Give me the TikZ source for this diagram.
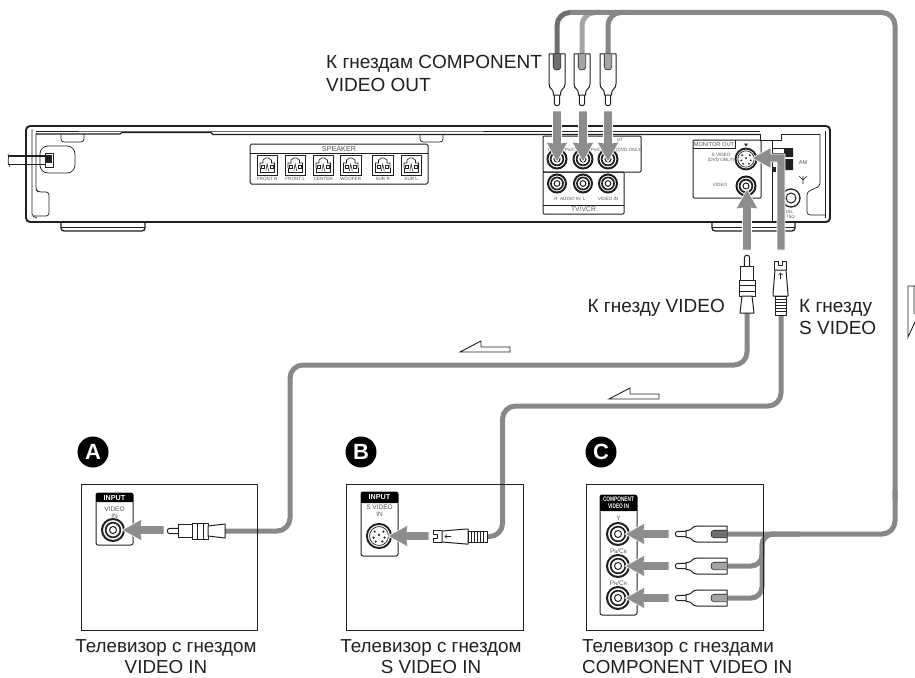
\documentclass[tikz,border=0pt]{standalone}
\usepackage{fontspec}
\setmainfont{Liberation Sans}
\usetikzlibrary{calc}
\definecolor{cablegray}{HTML}{87888A}
\definecolor{cabledark}{HTML}{6E6F71}
\definecolor{cablelight}{HTML}{A3A4A6}
\definecolor{arrowgray}{HTML}{8C8D8F}
\definecolor{ink}{HTML}{231F20}
\definecolor{smalltext}{HTML}{555555}
\tikzset{
  panel/.style={draw=ink,line width=1.9pt,line join=round},
  thinline/.style={draw=ink,line width=.7pt,line join=round},
  medline/.style={draw=ink,line width=1pt,line join=round},
  cable/.style={draw=cablegray,line width=5pt,rounded corners=13pt},
  garrow/.style={fill=arrowgray,draw=white,line width=.6pt,line join=miter},
  body/.style={fill=white,draw=ink,line width=1pt,line join=round},
  caption/.style={font=\fontsize{18.8}{21}\selectfont,align=center,inner sep=0pt,text=ink},
  toplabel/.style={font=\fontsize{19}{22.5}\selectfont,align=left,inner sep=0pt,text=ink},
  tiny/.style={font=\fontsize{4.6}{5.2}\selectfont,text=smalltext,inner sep=0pt,align=center},
  smalllbl/.style={font=\fontsize{6.5}{7.2}\selectfont,text=smalltext,inner sep=0pt,align=center},
  badge/.style={circle,fill=black,minimum size=31pt,inner sep=0pt,text=white,font=\fontsize{22}{22}\selectfont\bfseries},
  tvbox/.style={draw=ink,line width=1pt},
}
% gray arrow pointing left, tip at origin: #1 pos, #2 rotation, #3 length
\newcommand\grayarrow[3]{\path[garrow,shift={#1},rotate=#2] (0,0) -- (20,-11) -- (19,-4.5) -- (#3,-4.5) -- (#3,4.5) -- (19,4.5) -- (20,11) -- cycle;}
% RCA jack
\newcommand\rcajack[2]{\begin{scope}[shift={#1},scale=#2]
  \fill[white] (0,0) circle (11.5);
  \draw[ink,line width=2pt] (0,0) circle (10);
  \draw[ink,line width=1.7pt] (0,0) circle (6.7);
  \draw[ink,line width=1pt] (0,0) circle (3.2);
\end{scope}}
% S-video jack
\newcommand\sjack[2]{\begin{scope}[shift={#1},scale=#2]
  \fill[white] (0,0) circle (12);
  \draw[ink,line width=1.9pt] (0,0) circle (11);
  \draw[ink,line width=.7pt] (0,0) circle (8.6);
  \foreach \a/\b in {-4/-4,4/-4,-5/1.5,5/1.5,0/-1,-3/5,3/5}{\fill[ink] (\a,\b) circle (1.1);}
\end{scope}}
% RCA plug pointing left, tip at origin: #1 pos, #2 rotation, #3 inner colour
\newcommand\rcaplug[3]{\begin{scope}[shift={#1},rotate=#2]
  \draw[body] (11,-2.7) -- (3,-2.7) .. controls (-.6,-2.7) and (-.6,2.7) .. (3,2.7) -- (11,2.7);
  \draw[body] (11,-3.6) -- (13,-3.6) .. controls (17,-3.6) and (17,-8) .. (22,-8) -- (52,-8) -- (52,8) -- (22,8) .. controls (17,8) and (17,3.6) .. (13,3.6) -- (11,3.6) -- cycle;
  \draw[ink,line width=.6pt,fill=#3] (52,-3.8) -- (39,-3.8) .. controls (35,-3.8) and (35,3.8) .. (39,3.8) -- (52,3.8);
\end{scope}}
% Video plug pointing left, tip at origin
\newcommand\videoplug[2]{\begin{scope}[shift={#1},rotate=#2]
  \draw[body] (11,-2.7) -- (3,-2.7) .. controls (-.6,-2.7) and (-.6,2.7) .. (3,2.7) -- (11,2.7);
  \draw[body] (11,-6.5) rectangle (25,6.5);
  \draw[body] (25,-8) rectangle (41,8);
  \draw[ink,line width=.6pt] (30,-8) -- (30,8) (36,-8) -- (36,8);
  \draw[body] (41,-5) -- (58,-7) -- (58,7) -- (41,5) -- cycle;
\end{scope}}
% S plug pointing left, tip at origin
\newcommand\splug[2]{\begin{scope}[shift={#1},rotate=#2]
  \draw[body] (9,-6) -- (0,-6) -- (0,-2) -- (4,-2) -- (4,2) -- (0,2) -- (0,6) -- (9,6);
  \draw[body] (9,-5.5) -- (33,-7.5) -- (35,-7.5) -- (35,7.5) -- (33,7.5) -- (9,5.5) -- cycle;
  \draw[ink,line width=.6pt] (12,0) -- (18,0) (14,-2) -- (12,0) -- (14,2);
  \draw[body] (35,-5.5) rectangle (54,5.5);
  \foreach \t in {38,41,44,47,50}{\draw[ink,line width=.8pt] (\t,-5.5) -- (\t,5.5);}
\end{scope}}
% speaker terminal
\newcommand\spkjack[2]{\begin{scope}[shift={(#1,155)}]
  \draw[ink,line width=.8pt] (0,0) rectangle (20.5,20);
  \draw[ink,line width=.6pt] (3,13) -- (3,8) -- (6,8) -- (6,5) -- (9,3) -- (11.5,3) -- (14.5,5) -- (14.5,8) -- (17.5,8) -- (17.5,13);
  \draw[ink,line width=.6pt] (3,13) -- (3,17.5) -- (17.5,17.5) -- (17.5,13);
  \draw[ink,line width=.5pt] (4.5,10.5) rectangle (7.5,13) (13,10.5) rectangle (16,13);
  \draw[ink,line width=.5pt] (8.8,16) -- (10.2,9) -- (11.8,16);
  \node[tiny,anchor=center] at (10.25,24.2) {#2};
\end{scope}}
% open direction arrow
\newcommand\openarrow[2]{\draw[ink,line width=.9pt,fill=white,line join=miter,shift={(#1,#2)}] (0,0) -- (21,-11) -- (21,-5) -- (50,-5) -- (50,0) -- cycle;}

\begin{document}
\begin{tikzpicture}[x=1pt,y=-1pt]
\useasboundingbox (0,0) rectangle (915,677);
\fill[white] (0,0) rectangle (915,677);

%% main unit
\draw[panel,rounded corners=4pt] (145,222) -- (26,222) -- (26,126) -- (830,126) -- (830,222) -- (145,222);
\draw[panel,line width=1.3pt,rounded corners=3pt] (61,222) -- (61,231) -- (145,231) -- (145,222);
\draw[thinline] (61,227) -- (145,227);
\draw[panel,line width=1.3pt,rounded corners=3pt] (712,222) -- (712,231) -- (795,231) -- (795,222);
\draw[thinline] (712,227) -- (795,227);
% top inner lines
\draw[thinline] (36,131) -- (120,131) -- (213,131) -- (760,131);
\draw[ink,line width=1.2pt] (36,134) -- (120,134) -- (122,132.5) -- (211,132.5) -- (213,134.5) -- (760,134.5);
\draw[thinline,rounded corners=3pt] (61,134) -- (61,142) -- (84,142) -- (84,134);
\draw[thinline,rounded corners=3pt] (420,134) -- (420,142) -- (443,142) -- (443,134);
% left inner edge
\draw[thinline,rounded corners=2pt] (32,129) -- (32,216) -- (37,218);
\draw[thinline,rounded corners=3pt] (36,133) -- (36,190) -- (38,192) -- (49,192) -- (49,216) -- (33,216);
% right inner edge
\draw[thinline,rounded corners=2pt] (825,131) -- (825,218);
\draw[thinline,rounded corners=3pt] (820,134) -- (820,186) -- (807,192) -- (807,215) -- (825,215);
\draw[thinline] (760,134) -- (760,140) -- (781,140) -- (781,134) (772,140) -- (772,222) (781,134) -- (820,134);
% power cord
\draw[thinline,rounded corners=8pt] (40,146) rectangle (75,173);
\draw[medline] (45,153) rectangle (53,167);
\draw[ink,line width=1.5pt] (8,156) -- (52,156);
\draw[ink,line width=1pt] (8,164) -- (45,164);
\fill[ink] (46,156) rectangle (52,163);
\draw[ink,line width=.6pt] (8,154) .. controls (10,158) and (6,162) .. (10,167);

%% speaker block
\draw[medline,rounded corners=1.5pt] (250,144) rectangle (428,184);
\draw[medline] (250,153) -- (428,153);
\node[font=\fontsize{7.2}{8}\selectfont,text=smalltext,inner sep=0pt] (spkhead) at (339,149) {SPEAKER};
\spkjack{257}{FRONT R}
\spkjack{285}{FRONT L}
\spkjack{313}{CENTER}
\spkjack{340.5}{WOOFER}
\spkjack{372.5}{SUR R}
\spkjack{401}{SUR L}

%% component / tv block
\draw[medline,rounded corners=1pt] (543,136) -- (641,136) -- (641,172) -- (543,172) -- cycle;
\draw[medline,rounded corners=1pt] (543,172) rectangle (624,214);
\draw[medline] (543,205) -- (624,205);
\node[font=\fontsize{6.8}{8}\selectfont,text=smalltext,inner sep=0pt] (tvvcr) at (583.5,209.5) {TV/VCR};
\node[tiny,anchor=west] (dvdonly) at (616,150) {(DVD ONLY)};
\node[tiny] (ytop) at (549,150) {Y};
\node[tiny] (pb) at (570,150) {P\scalebox{.7}{B}/C};
\node[tiny] (pr) at (596,150) {P\scalebox{.7}{R}/C};
\node[tiny] (outtxt) at (620,140) {UT};
\rcajack{(557,159)}{.95}
\rcajack{(583,159)}{.95}
\rcajack{(608,159)}{.95}
\rcajack{(557,183.5)}{.9}
\rcajack{(583,183.5)}{.9}
\rcajack{(608,183.5)}{.9}
\node[tiny] (rl) at (570,199) {R\hspace{2.5pt}AUDIO IN\hspace{2.5pt}L};
\node[tiny] (vin) at (608,199) {VIDEO IN};

%% monitor out
\draw[medline,rounded corners=1pt] (693,140) rectangle (761,198);
\draw[medline] (693,148.5) -- (735,148.5) -- (735,140);
\node[font=\fontsize{5.7}{6}\selectfont,text=smalltext,inner sep=0pt] (mon) at (714,144.5) {MONITOR OUT};
\node[tiny] (sv) at (721,157.5) {S VIDEO\\(DVD ONLY)};
\node[tiny] (vv) at (720,185) {VIDEO};
\fill[ink] (744,143.5) -- (748,143.5) -- (746,146.5) -- cycle;
\sjack{(746,159)}{.95}
\rcajack{(746,186)}{.95}
% AM / antenna
\draw[medline] (772,148) -- (793,148) (772,153) -- (785,153);
\fill[ink] (784,148) rectangle (793,157) (784,159) rectangle (793,170);
\fill[ink] (773,167) rectangle (776,172);
\node[font=\fontsize{5.6}{6}\selectfont,text=smalltext,inner sep=0pt] (am) at (803,163) {AM};
\draw[ink,line width=.6pt] (803,176) -- (803,184) (799,176) -- (803,180) -- (807,176);
\draw[ink,line width=1.3pt] (791,198) circle (9);
\draw[ink,line width=1pt] (791,198) circle (5);
\fill[white] (770,180) rectangle (783,221);
\draw[thinline] (772,180) -- (772,222);
\node[tiny,anchor=west] (ial) at (786,212) {IAL};
\node[tiny,anchor=west] (ohm) at (786,217) {75Ω};

%% cables (component)
\draw[cablelight,line width=5pt,rounded corners=13pt] (582,54) -- (582,12.5) -- (625,12.5);
\draw[cabledark,line width=5pt,rounded corners=13pt] (557,54) -- (557,12.5) -- (600,12.5);
\draw[cablegray,line width=5pt,rounded corners=13pt] (895,500) -- (895,12.5) -- (608,12.5) -- (608,54);
\draw[cablegray,line width=5pt] (570,12.5) -- (700,12.5);
\draw[cablegray,line width=5pt,rounded corners=11pt] (800,534) -- (762,534) -- (762,566) -- (727,566);
\draw[cablegray,line width=5pt,rounded corners=11pt] (775,534) -- (762,534) -- (762,598) -- (727,598);
\draw[cablegray,line width=5pt,rounded corners=13pt] (895,490) -- (895,534) -- (727,534);
%% cables video / s-video
\draw[cable] (747,312) -- (747,365) -- (290,365) -- (290,531) -- (225,531);
\draw[cable] (781,312) -- (781,406) -- (502.5,406) -- (502.5,536.5) -- (487,536.5);

%% plugs
\rcaplug{(557,106)}{90}{cabledark}
\rcaplug{(582,106)}{90}{cablelight}
\rcaplug{(608,106)}{90}{cablelight}
\videoplug{(747,255)}{-90}
\splug{(780.5,261)}{-90}

%% top arrows
\grayarrow{(557,162)}{90}{51}
\grayarrow{(583,162)}{90}{51}
\grayarrow{(608,162)}{90}{51}
\grayarrow{(747,189)}{-90}{61}
\coordinate (stip) at (752,158);
\path[garrow] (stip) -- (771,147.5) -- (771,154) -- (785,154) -- (785,250) -- (777,250) -- (777,162) -- (771,162) -- (771,168.5) -- cycle;

%% open direction arrows
\openarrow{460}{352}
\openarrow{609}{399}
\draw[ink,line width=.9pt] (915,286) -- (908,286) -- (908,337) -- (915,322) (914,286) -- (914,314);

%% labels
\node[toplabel,anchor=west] (lblcomp) at (326,73.5) {К гнездам COMPONENT\\VIDEO OUT};
\node[toplabel,anchor=east] (lblv) at (725,308) {К гнезду VIDEO};
\node[toplabel,anchor=west] (lbls) at (799,317) {К гнезду\\S VIDEO};

%% badges
\node[badge] (ba) at (93,452) {A};
\node[badge] (bb) at (361,452) {B};
\node[badge] (bc) at (601,452) {C};

%% TV A
\draw[tvbox] (81,484) rectangle (257,630);
\draw[medline,rounded corners=2pt] (96,493) rectangle (133,545);
\fill[black,rounded corners=2pt] (96,493) rectangle (133,502);
\fill[black] (96,498) rectangle (133,502);
\node[font=\fontsize{7.2}{8}\selectfont\bfseries,text=white,inner sep=0pt] (ina) at (114.5,498) {INPUT};
\node[smalllbl] (vina) at (114.5,513) {VIDEO\\IN};
\rcajack{(113,530)}{1.1}
\videoplug{(167,531)}{0}
\grayarrow{(122,530)}{0}{42}

%% TV B
\draw[tvbox] (346,484) rectangle (523,630);
\draw[medline,rounded corners=2pt] (361,492) rectangle (398,556);
\fill[black,rounded corners=2pt] (361,492) rectangle (398,503);
\fill[black] (361,498) rectangle (398,503);
\node[font=\fontsize{7.2}{8}\selectfont\bfseries,text=white,inner sep=0pt] (inb) at (379.5,497.5) {INPUT};
\node[smalllbl] (vinb) at (379.5,511) {S VIDEO\\IN};
\sjack{(379,536)}{1.1}
\splug{(433,536.5)}{0}
\grayarrow{(388,536)}{0}{41}

%% TV C
\draw[tvbox] (586,484) rectangle (763,630);
\draw[medline,rounded corners=2pt] (600,495) rectangle (637,615);
\fill[black,rounded corners=2pt] (600,495) rectangle (637,511);
\fill[black] (600,502) rectangle (637,511);
\node[font=\fontsize{6.6}{7.2}\selectfont\bfseries,text=white,inner sep=0pt,align=center,xscale=.72] (inc) at (618.5,503) {COMPONENT\\VIDEO IN};
\node[smalllbl] (cy) at (618.5,518) {Y};
\node[smalllbl] (cb) at (618.5,551) {P\scalebox{.7}{B}/C\scalebox{.7}{B}};
\node[smalllbl] (cr) at (618.5,583.5) {P\scalebox{.7}{R}/C\scalebox{.7}{R}};
\rcajack{(618,534)}{1.1}
\rcajack{(618,566)}{1.1}
\rcajack{(618,598)}{1.1}
\rcaplug{(675,534)}{0}{cabledark}
\rcaplug{(675,566)}{0}{cablelight}
\rcaplug{(675,598)}{0}{cablelight}
\grayarrow{(625,534)}{0}{44}
\grayarrow{(625,566)}{0}{44}
\grayarrow{(625,598)}{0}{44}

%% captions
\node[caption] (capa) at (166,656.5) {Телевизор с гнездом\\VIDEO IN};
\node[caption] (capb) at (431,656.5) {Телевизор с гнездом\\S VIDEO IN};
\node[caption,anchor=west,align=left] (capc) at (582,656.5) {Телевизор с гнездами\\COMPONENT VIDEO IN};
\end{tikzpicture}
\end{document}
